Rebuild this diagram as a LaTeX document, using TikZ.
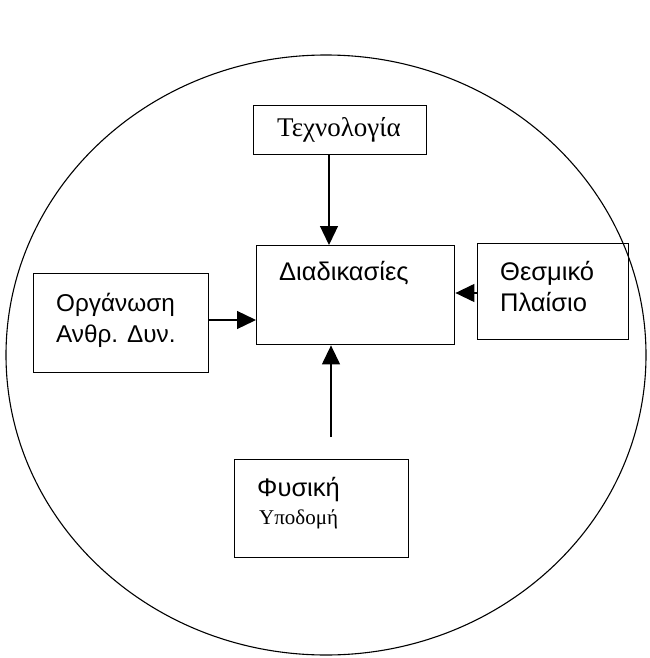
\documentclass[tikz,border=0pt]{standalone}
\usepackage{fontspec}
\setmainfont{Liberation Serif}
\newfontfamily\grsans{Liberation Sans}
\usetikzlibrary{arrows.meta}
\begin{document}
\begin{tikzpicture}[x=1pt,y=-1pt,
  boxst/.style={draw,line width=1.4pt,inner sep=0pt,anchor=north west},
  lbl/.style={inner sep=0pt,align=left,font=\grsans\fontsize{25.5}{31}\selectfont},
  arr/.style={line width=1.3pt,-{Triangle[length=19pt,width=18pt]}}]
\useasboundingbox (0,0) rectangle (649,658);
\draw[line width=1.1pt] (326,355) ellipse [x radius=320, y radius=300];
% boxes
\node[boxst,minimum width=173pt,minimum height=49pt] (tech) at (253,105) {};
\node[boxst,minimum width=198pt,minimum height=99pt] (proc) at (256,245) {};
\node[boxst,minimum width=175pt,minimum height=99pt] (org) at (33,273) {};
\node[boxst,minimum width=151pt,minimum height=96pt] (inst) at (477,243) {};
\node[boxst,minimum width=174pt,minimum height=98pt] (phys) at (234,459) {};
% texts
\node[inner sep=0pt,font=\fontsize{27}{30}\selectfont] (techt) at (339,130) {Τεχνολογία};
\node[lbl,anchor=west] (proct) at (279,273) {Διαδικασίες};
\node[lbl,anchor=west,font=\grsans\fontsize{24.3}{31}\selectfont] (orgt) at (56,320) {Οργάνωση\\Ανθρ. Δυν.};
\node[lbl,anchor=west] (instt) at (500,287) {Θεσμικό\\Πλαίσιο};
\node[lbl,anchor=west] (physt) at (257,490) {Φυσική};
\node[inner sep=0pt,anchor=west,font=\fontsize{21}{22}\selectfont] (physt2) at (259,519) {Υποδομή};
% arrows
\coordinate (bfree) at (331,437);
\draw[arr] (tech.south -| 329,0) -- (proc.north -| 329,0);
\draw[arr] (org.east |- 0,320) -- (proc.west |- 0,320);
\draw[arr] (inst.west |- 0,293) -- (proc.east |- 0,293);
\draw[arr] (bfree) -- (proc.south -| bfree);
\end{tikzpicture}
\end{document}
